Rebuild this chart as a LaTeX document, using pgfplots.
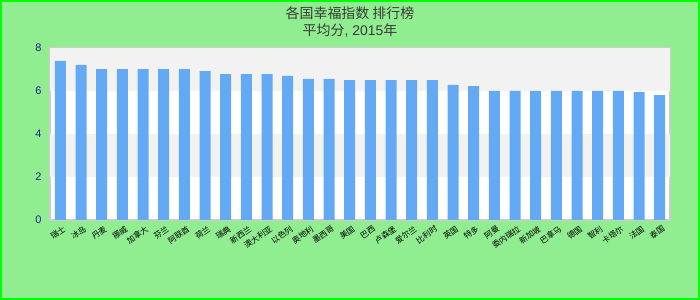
\documentclass[border=0pt]{standalone}
\usepackage{pgfplots}
\pgfplotsset{compat=1.18}
\usepackage{fontspec}
\setmainfont{Liberation Sans}
\newfontfamily\cjk{Noto Sans CJK SC}
\definecolor{bgreen}{HTML}{90EE90}
\definecolor{limeb}{HTML}{00FF00}
\definecolor{barblue}{HTML}{63A9F4}
\definecolor{band}{HTML}{F2F2F2}
\definecolor{tickc}{HTML}{1F1F8A}
\definecolor{ttl}{HTML}{3A3A3A}
\definecolor{frame}{HTML}{CCCCCC}
\begin{document}
\begin{tikzpicture}
\fill[bgreen] (0bp,0bp) rectangle (700bp,300bp);
\draw[limeb, line width=2bp] (1bp,1bp) rectangle (699bp,299bp);
\node[font=\cjk\fontsize{14}{16}\selectfont, text=ttl] at (350bp,287bp) {各国幸福指数 排行榜};
\node[font=\fontsize{14}{16}\selectfont, text=ttl] at (350bp,269bp) {{\cjk 平均分}, 2015{\cjk 年}};
\begin{axis}[
  at={(50bp,80bp)}, anchor=south west,
  scale only axis, width=620bp, height=172bp,
  xmin=-0.5, xmax=29.5, ymin=0, ymax=8,
  ytick={0,2,4,6,8},
  xtick={0,...,29},
  major tick length=0pt,
  axis background/.style={fill=white},
  axis line style={frame, line width=1.2bp},
  /pgf/number format/assume math mode=true,
  yticklabel style={font=\fontsize{11}{12}\selectfont, text=tickc, xshift=-5bp},
  xticklabel style={font=\cjk\fontsize{8}{8.5}\selectfont, text=black, rotate=35, anchor=north east, inner sep=1bp, yshift=-4bp},
  xticklabels={瑞士,冰岛,丹麦,挪威,加拿大,芬兰,阿联酋,荷兰,瑞典,新西兰,澳大利亚,以色列,奥地利,墨西哥,美国,巴西,卢森堡,爱尔兰,比利时,英国,特多,阿曼,委内瑞拉,新加坡,巴拿马,德国,智利,卡塔尔,法国,泰国},
  clip=false,
]
\fill[band] (axis cs:-0.5,2) rectangle (axis cs:29.5,4);
\fill[band] (axis cs:-0.5,6) rectangle (axis cs:29.5,8);
\addplot[ybar, bar width=11bp, fill=barblue, draw=none] coordinates {
(0,7.40) (1,7.21) (2,7.02) (3,7.02) (4,7.02) (5,7.02) (6,7.02) (7,6.93) (8,6.79) (9,6.79)
(10,6.79) (11,6.70) (12,6.56) (13,6.56) (14,6.51) (15,6.51) (16,6.51) (17,6.51) (18,6.51) (19,6.28)
(20,6.23) (21,6.00) (22,6.00) (23,6.00) (24,6.00) (25,6.00) (26,6.00) (27,6.00) (28,5.95) (29,5.81)
};
\end{axis}
\end{tikzpicture}
\end{document}
